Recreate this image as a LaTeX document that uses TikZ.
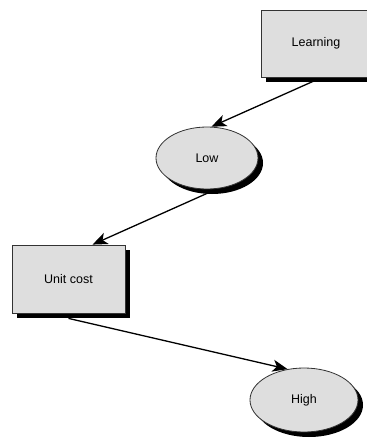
\documentclass[tikz,border=0pt]{standalone}
\usepackage{fontspec}
\setmainfont{Liberation Sans}
\usetikzlibrary{shapes.geometric,arrows.meta,shadows}
\begin{document}
\begin{tikzpicture}[x=1pt,y=-1pt,
  solidshadow/.style={drop shadow={shadow xshift=5pt,shadow yshift=-5pt,fill=black,opacity=1}},
  boxnode/.style={rectangle,draw=black!80,line width=0.8pt,fill=black!13,inner sep=0pt,
    font=\fontsize{12.5}{14}\selectfont,solidshadow},
  ovalnode/.style={ellipse,draw=black!80,line width=0.8pt,fill=black!13,inner sep=0pt,
    font=\fontsize{12.5}{14}\selectfont,solidshadow},
  link/.style={line width=1.3pt,-{Stealth[length=15pt,width=12pt,inset=4pt]}}]
  \useasboundingbox (0,0) rectangle (367,440);
  \begin{scope}
    \clip (0,0) rectangle (367,440);
    \node[boxnode,minimum width=110pt,minimum height=67pt] (learn) at (316,43.5) {Learning};
  \end{scope}
  \node[ovalnode,minimum width=102pt,minimum height=62pt] (low) at (207,158) {Low};
  \node[boxnode,minimum width=113pt,minimum height=68pt] (unit) at (68.5,279) {Unit cost};
  \node[ovalnode,minimum width=108pt,minimum height=64pt] (high) at (304,400) {High};
  \draw[link] ([xshift=-3pt,yshift=-4pt]learn.south) -- (low.82);
  \draw[link] ([yshift=-4pt]low.south) -- ([xshift=24pt]unit.north);
  \draw[link] ([yshift=-5pt]unit.south) -- (high.118);
\end{tikzpicture}
\end{document}
